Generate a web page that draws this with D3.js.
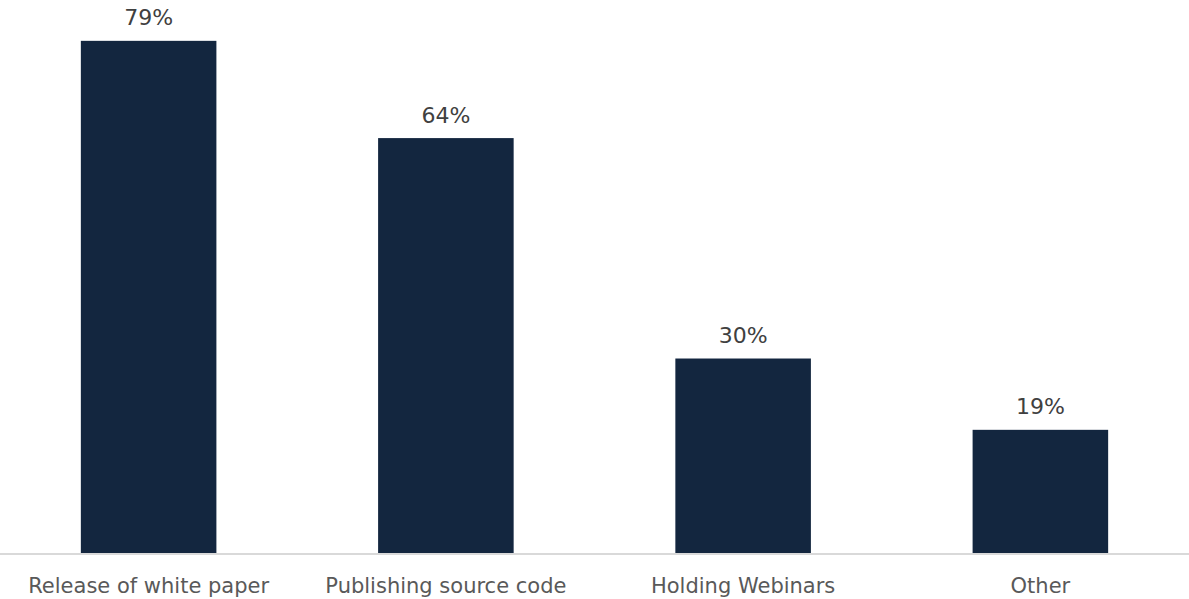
<!DOCTYPE html>
<html>
<head>
<meta charset="utf-8">
<script src="https://cdn.jsdelivr.net/npm/d3@7"></script>
<style>
  html, body { margin: 0; padding: 0; background: #ffffff; }
  svg { display: block; }
</style>
</head>
<body>
<svg id="chart" width="1189" height="599"></svg>
<script>
// Share of respondents by activity
const categories = ["Release of white paper", "Publishing source code", "Holding Webinars", "Other"];
const values = [79, 64, 30, 19];
const valueLabels = ["79%", "64%", "30%", "19%"];

const width = 1189, height = 599;
const baseline = 553;

const svg = d3.select("#chart");

const x = d3.scaleBand()
  .domain(categories)
  .range([0, width])
  .paddingInner(0.544)
  .paddingOuter(0.272);

const y = d3.scaleLinear()
  .domain([0, 85.3])
  .range([baseline, 0]);

// bars
svg.append("g")
  .selectAll("rect")
  .data(values)
  .join("rect")
  .attr("x", (d, i) => x(categories[i]))
  .attr("y", d => y(d))
  .attr("width", x.bandwidth())
  .attr("height", d => y(0) - y(d))
  .attr("fill", "#13263f");

// baseline axis
const axis = svg.append("g")
  .attr("transform", `translate(0,${baseline + 1})`)
  .call(d3.axisBottom(x).tickSize(0).tickPadding(35));
axis.select(".domain")
  .attr("d", `M0,0H${width}`)
  .attr("stroke", "#d9d9d9")
  .attr("stroke-width", 2);
axis.selectAll(".tick text")
  .attr("font-family", "DejaVu Sans, Verdana, sans-serif")
  .attr("font-size", 21)
  .attr("fill", "#595959")
  .attr("dy", "0.2em");

// value labels
svg.append("g")
  .selectAll("text")
  .data(values)
  .join("text")
  .attr("x", (d, i) => x(categories[i]) + x.bandwidth() / 2)
  .attr("y", d => y(d) - 15.5)
  .attr("text-anchor", "middle")
  .attr("font-family", "DejaVu Sans, Verdana, sans-serif")
  .attr("font-size", 22)
  .attr("fill", "#404040")
  .text((d, i) => valueLabels[i]);
</script>
</body>
</html>
